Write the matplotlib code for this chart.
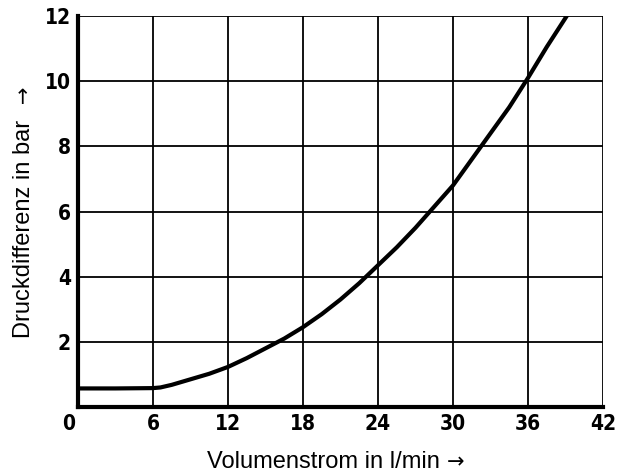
import matplotlib.pyplot as plt
from matplotlib.transforms import ScaledTranslation

# Volumenstrom (l/min) vs Druckdifferenz (bar)
flow = [0, 3, 6, 6.6, 7.5, 9, 10.5, 12, 13.5, 15, 16.5, 18, 19.5, 21, 22.5, 24,
        25.5, 27, 28.5, 30, 31.5, 33, 34.5, 36, 37.5, 39.1]
dp = [0.57, 0.57, 0.58, 0.6, 0.68, 0.85, 1.02, 1.23, 1.5, 1.8, 2.1, 2.45, 2.85, 3.3, 3.8, 4.35,
      4.9, 5.5, 6.15, 6.8, 7.6, 8.4, 9.2, 10.1, 11.05, 12.0]

xticks = [0, 6, 12, 18, 24, 30, 36, 42]
yticks = [2, 4, 6, 8, 10, 12]

W, H = 617, 472
fig = plt.figure(figsize=(W / 100, H / 100), dpi=100)
ax = fig.add_axes([0.1264, 0.1377, 0.8509, 0.8284])

ax.plot(flow, dp, color='black', lw=3, solid_joinstyle='round', zorder=3)

ax.set_xlim(0, 42)
ax.set_ylim(0, 12)
ax.set_xticks(xticks)
ax.set_yticks(yticks)
ax.grid(True, color='black', lw=1.3)
ax.set_axisbelow(True)

tick_font = dict(family=['Liberation Sans Narrow', 'DejaVu Sans'], weight='bold',
                 stretch='condensed', size=15)
ax.set_xticklabels([str(v) for v in xticks], **tick_font)
ax.set_yticklabels([str(v) for v in yticks], **tick_font)
ax.tick_params(length=0)
ax.tick_params(axis='x', pad=5)
ax.tick_params(axis='y', pad=5)

# the "0" sits a little left of the corner
zero = ax.get_xticklabels()[0]
zero.set_transform(zero.get_transform() + ScaledTranslation(-0.09, 0, fig.dpi_scale_trans))

for s in ['top', 'right']:
    ax.spines[s].set_visible(False)
for s in ['left', 'bottom']:
    ax.spines[s].set_linewidth(3)

# axis labels placed in pixel positions, arrows in DejaVu Sans
lab_font = dict(family=['Liberation Sans', 'DejaVu Sans'], size=17)
fig.text(207 / W, 1 - 468 / H, 'Volumenstrom in l/min', ha='left', va='baseline',
         rotation_mode='anchor', **lab_font)
fig.text(447 / W, 1 - 468 / H, '→', family='DejaVu Sans', size=15,
         ha='left', va='baseline')
fig.text(30 / W, 1 - 338 / H, 'Druckdifferenz in bar', rotation=90, ha='left',
         va='baseline', rotation_mode='anchor', **lab_font)
fig.text(22 / W, 1 - 98 / H, '↑', family='DejaVu Sans', size=15,
         ha='center', va='center')

fig.savefig('out.png', dpi=100)
